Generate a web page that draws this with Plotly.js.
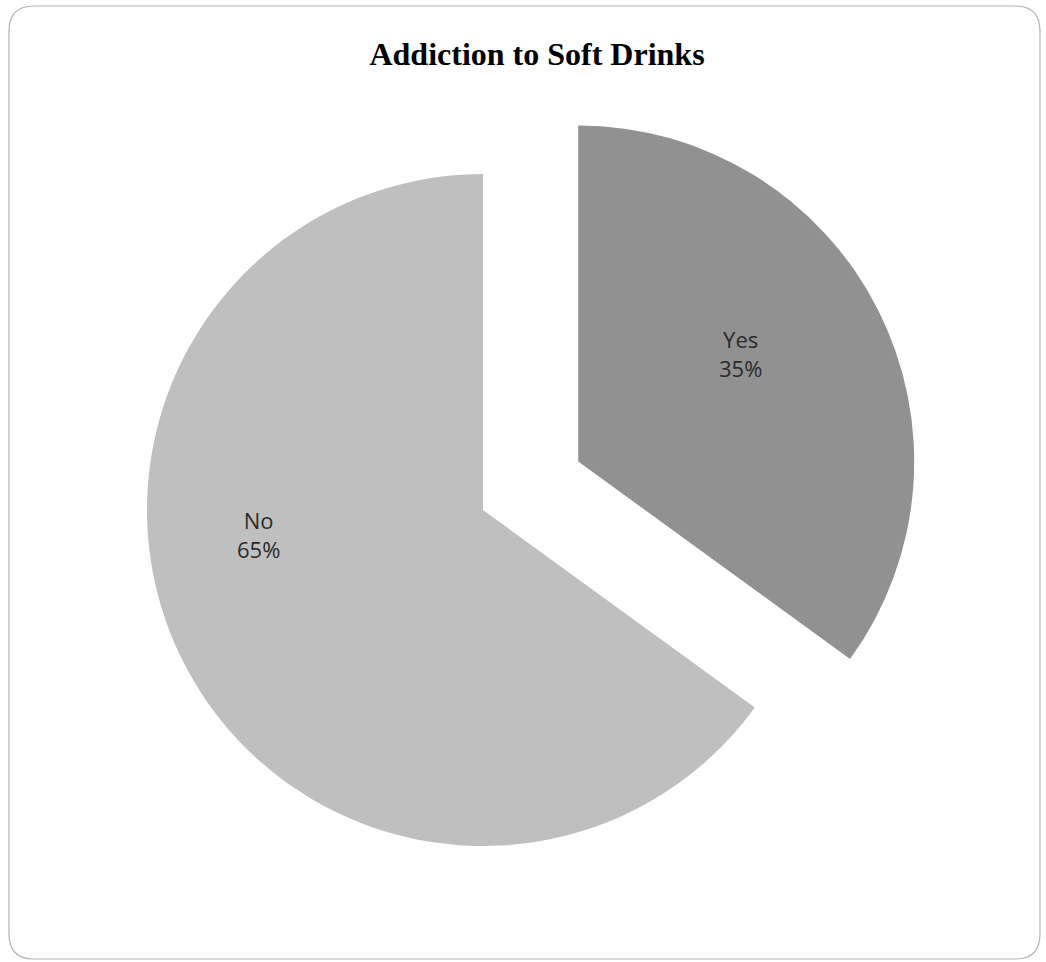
<!DOCTYPE html>
<html>
<head>
<meta charset="utf-8">
<script src="https://cdn.plot.ly/plotly-3.0.1.min.js"></script>
<style>html,body{margin:0;padding:0;background:#fff;}#chart{width:1046px;height:962px;}</style>
</head>
<body>
<div id="chart"></div>
<script>
const chartTitle = "Addiction to Soft Drinks";
const categories = ["Yes", "No"];
const values = [35, 65];
const sliceColors = ["#919191", "#bfbfbf"];
const pulls = [0.318, 0];

const W = 1046, H = 962;
const px = x => x / W;
const py = y => 1 - y / H;

// rounded border
function roundRect(x0, y0, x1, y1, r) {
  return `M ${px(x0 + r)},${py(y0)} L ${px(x1 - r)},${py(y0)} Q ${px(x1)},${py(y0)} ${px(x1)},${py(y0 + r)} ` +
         `L ${px(x1)},${py(y1 - r)} Q ${px(x1)},${py(y1)} ${px(x1 - r)},${py(y1)} ` +
         `L ${px(x0 + r)},${py(y1)} Q ${px(x0)},${py(y1)} ${px(x0)},${py(y1 - r)} ` +
         `L ${px(x0)},${py(y0 + r)} Q ${px(x0)},${py(y0)} ${px(x0 + r)},${py(y0)} Z`;
}

const total = values.reduce((a, b) => a + b, 0);
const pct = values.map(v => Math.round(v / total * 100) + "%");

// pie box: centre (483,510), radius 336, enlarged for pull
const cx = 483, cy = 510, r = 336;
const half = r * (1 + Math.max(...pulls));

const labelPos = [[740, 354], [258, 534]];
const annotations = categories.map((c, i) => ({
  xref: "paper", yref: "paper",
  x: px(labelPos[i][0]), y: py(labelPos[i][1]),
  xanchor: "center", yanchor: "middle",
  text: c + "<br>" + pct[i],
  showarrow: false,
  align: "center",
  font: {family: "Open Sans, sans-serif", size: 22, color: "#2b2b2b"}
}));

const data = [{
  type: "pie",
  labels: categories,
  values: values,
  marker: {colors: sliceColors, line: {width: 0}},
  pull: pulls,
  sort: false,
  direction: "clockwise",
  rotation: 0,
  textinfo: "none",
  hoverinfo: "label+percent",
  showlegend: false,
  domain: {x: [px(cx - half), px(cx + half)], y: [py(cy + half), py(cy - half)]}
}];

const layout = {
  width: W, height: H,
  margin: {l: 0, r: 0, t: 0, b: 0},
  paper_bgcolor: "#ffffff",
  showlegend: false,
  title: {
    text: "<b>" + chartTitle + "</b>",
    font: {family: "Liberation Serif, Times New Roman, serif", size: 32, color: "#000000"},
    x: px(537), xanchor: "center",
    y: py(54), yanchor: "middle", xref: "paper", yref: "container"
  },
  annotations: annotations,
  shapes: [{
    type: "path", xref: "paper", yref: "paper",
    path: roundRect(9, 6, 1040, 959, 25),
    line: {color: "#b3b3b3", width: 1.2},
    fillcolor: "rgba(0,0,0,0)"
  }]
};

Plotly.newPlot("chart", data, layout, {displayModeBar: false, staticPlot: true});
</script>
</body>
</html>
